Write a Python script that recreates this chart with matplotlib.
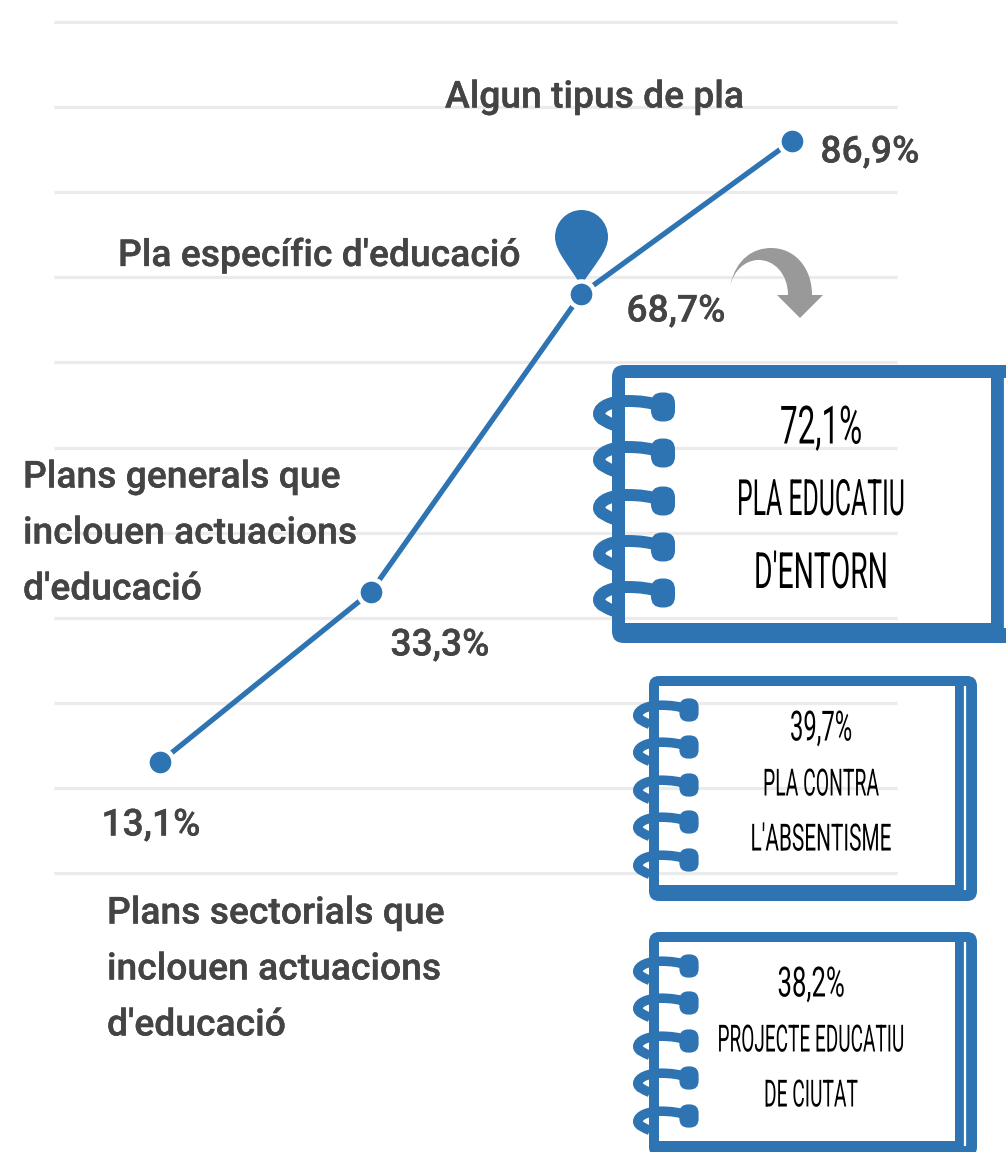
import matplotlib
matplotlib.use("Agg")
import matplotlib.pyplot as plt
from matplotlib.path import Path
from matplotlib.patches import PathPatch
from matplotlib.patheffects import AbstractPathEffect, withStroke
from matplotlib.transforms import Affine2D

W, H = 1006, 1152
BLUE = '#2e74b3'
GRAY_TEXT = '#444444'
GRID = '#ebebeb'

categories = ['Plans sectorials', 'Plans generals', 'Pla específic', 'Algun tipus de pla']
values = [13.1, 33.3, 68.7, 86.9]
grid_values = [0, 10, 20, 30, 40, 50, 60, 70, 80, 90, 100]
value_labels = ['13,1%', '33,3%', '68,7%', '86,9%']
notebook_lines = [['72,1%', 'PLA EDUCATIU', "D'ENTORN"],
                  ['39,7%', 'PLA CONTRA', "L'ABSENTISME"],
                  ['38,2%', 'PROJECTE EDUCATIU', 'DE CIUTAT']]

fig = plt.figure(figsize=(W / 100, H / 100), dpi=100)
fig.patch.set_facecolor('white')


def px_axes(left, top, right, bottom):
    return fig.add_axes([left / W, 1 - bottom / H, (right - left) / W, (bottom - top) / H])


# squeezes a text sideways, no narrow font is installed
class Squeeze(AbstractPathEffect):
    def __init__(self, sx, cx):
        super().__init__()
        self.sx = sx
        self.cx = cx

    def draw_path(self, renderer, gc, tpath, affine, rgbFace=None):
        a = affine + Affine2D().translate(-self.cx, 0).scale(self.sx, 1).translate(self.cx, 0)
        renderer.draw_path(gc, tpath, a, rgbFace)


# gridlines
ax_grid = px_axes(54, 22, 897, 873)
ax_grid.set_ylim(0, 100)
ax_grid.set_yticks(grid_values)
ax_grid.set_xticks([])
ax_grid.tick_params(length=0, labelleft=False)
ax_grid.grid(axis='y', color=GRID, linewidth=2.3, clip_on=False, solid_capstyle='butt')
for s in ax_grid.spines.values():
    s.set_visible(False)
ax_grid.patch.set_alpha(0)

# overlay in pixel coords, pin and arrow go under the line markers
ov = px_axes(0, 0, W, H)
ov.set_xlim(0, W)
ov.set_ylim(H, 0)
ov.axis('off')

# gray arrow
arrow = Path([(730, 286), (736, 258), (754, 248), (771, 248),
              (795, 248), (812, 268), (812, 295),
              (823, 295), (800, 318), (777, 295), (788, 295),
              (788, 274), (774, 259), (757, 260),
              (745, 261), (734, 270), (730, 286), (730, 286)],
             [Path.MOVETO, Path.CURVE4, Path.CURVE4, Path.CURVE4,
              Path.CURVE4, Path.CURVE4, Path.CURVE4,
              Path.LINETO, Path.LINETO, Path.LINETO, Path.LINETO,
              Path.CURVE4, Path.CURVE4, Path.CURVE4,
              Path.CURVE4, Path.CURVE4, Path.CURVE4, Path.CLOSEPOLY])
ov.add_patch(PathPatch(arrow, facecolor='#999999', edgecolor='none'))

# pin
pin = Path([(581, 286), (570, 266), (555, 252), (555, 237),
            (555, 222), (567, 210), (581.5, 210),
            (596, 210), (608, 222), (608, 237),
            (608, 252), (593, 266), (581, 286), (581, 286)],
           [Path.MOVETO, Path.CURVE4, Path.CURVE4, Path.CURVE4,
            Path.CURVE4, Path.CURVE4, Path.CURVE4,
            Path.CURVE4, Path.CURVE4, Path.CURVE4,
            Path.CURVE4, Path.CURVE4, Path.CURVE4, Path.CLOSEPOLY])
ov.add_patch(PathPatch(pin, facecolor=BLUE, edgecolor='none'))

# line
ax = px_axes(0, 0, W, H)
x_step = (792 - 160) / 3
y_step = 8.42
ax.set_xlim(-160 / x_step, (W - 160) / x_step)
ax.set_ylim((872.5 - H) / y_step, 872.5 / y_step)
ax.axis('off')
ax.plot(range(len(values)), values, color=BLUE, linewidth=3.8, solid_capstyle='butt')
ax.plot(range(len(values)), values, 'o', color=BLUE, markersize=18.8,
        markeredgecolor='white', markeredgewidth=3.2)

# everything else on top
top = px_axes(0, 0, W, H)
top.set_xlim(0, W)
top.set_ylim(H, 0)
top.axis('off')


def rounded(x0, y0, x1, y1, r):
    k = [Path.MOVETO, Path.LINETO, Path.CURVE3, Path.CURVE3, Path.LINETO, Path.CURVE3, Path.CURVE3,
         Path.LINETO, Path.CURVE3, Path.CURVE3, Path.LINETO, Path.CURVE3, Path.CURVE3, Path.CLOSEPOLY]
    v = [(x0 + r, y0), (x1 - r, y0), (x1, y0), (x1, y0 + r), (x1, y1 - r), (x1, y1), (x1 - r, y1),
         (x0 + r, y1), (x0, y1), (x0, y1 - r), (x0, y0 + r), (x0, y0), (x0 + r, y0), (x0 + r, y0)]
    return Path(v, k)


def ring(kx, ky, s):
    # wire loop that starts at the knob and wraps behind the left edge
    wire = Path([(kx, ky), (kx - 12 * s, ky - 5 * s), (kx - 24 * s, ky - 6 * s), (kx - 36 * s, ky - 6 * s),
                 (kx - 50 * s, ky - 6 * s), (kx - 64 * s, ky - 1 * s), (kx - 64 * s, ky + 7 * s),
                 (kx - 64 * s, ky + 12 * s), (kx - 56 * s, ky + 15 * s), (kx - 49 * s, ky + 18 * s)],
                [Path.MOVETO] + [Path.CURVE4] * 9)
    top.add_patch(PathPatch(wire, facecolor='none', edgecolor=BLUE, linewidth=8.6 * s, capstyle='butt'))
    knob = rounded(kx - 12 * s, ky - 14.5 * s, kx + 12 * s, ky + 14.5 * s, 11 * s)
    top.add_patch(PathPatch(knob, facecolor=BLUE, edgecolor='none'))


def notebook(outer, inner, slit, r, knob_x, knob_ys, s):
    body = Path.make_compound_path(
        rounded(*outer, r),
        Path([(inner[0], inner[1]), (inner[0], inner[3]), (inner[2], inner[3]), (inner[2], inner[1]),
              (inner[0], inner[1])], closed=True))
    top.add_patch(PathPatch(body, facecolor=BLUE, edgecolor='none'))
    top.plot([slit[0], slit[0]], [slit[1], slit[2]], color='white', linewidth=1.6, solid_capstyle='butt')
    for ky in knob_ys:
        ring(knob_x, ky, s)


notebook((612, 365, 1020, 643), (625, 378, 991, 623), (1005, 378, 628), 12, 663, [407, 453, 501, 547, 593], 1.0)
notebook((649, 676, 977, 901), (659, 686, 955, 885), (965.5, 686, 890), 10, 689, [710, 747, 785, 822, 860], 0.8)
notebook((649, 932, 977, 1157), (659, 942, 955, 1141), (965.5, 942, 1146), 10, 689, [966, 1003, 1041, 1078, 1116], 0.8)

# notebook captions
note_x = [[821, 821, 821], [821, 821, 821], [811, 811, 811]]
note_y = [[429, 501, 574], [729, 785, 840], [985, 1041, 1096]]
note_size = [[38, 36, 36], [30, 27, 27], [30, 27, 27]]
note_width = [[82, 168, 134], [62, 116, 141], [67, 187, 94]]
renderer = fig.canvas.get_renderer()
for i in range(3):
    for j in range(3):
        t = top.text(note_x[i][j], note_y[i][j], notebook_lines[i][j], family='Roboto',
                     fontsize=note_size[i][j], ha='center', va='center', color='black')
        sx = note_width[i][j] / t.get_window_extent(renderer).width
        t.set_path_effects([Squeeze(sx, note_x[i][j])])

# chart labels
label_kw = dict(family=['Roboto', 'DejaVu Sans'], fontweight='medium', color=GRAY_TEXT, fontsize=26.8, va='center',
                path_effects=[withStroke(linewidth=0.25, foreground=GRAY_TEXT)])
top.text(445, 98, 'Algun tipus de pla', **label_kw)
top.text(118, 256, "Pla específic d'educació", **label_kw)
top.text(23, 478, 'Plans generals que', **label_kw)
top.text(23, 534, 'inclouen actuacions', **label_kw)
top.text(23, 590, "d'educació", **label_kw)
top.text(107, 914, 'Plans sectorials que', **label_kw)
top.text(107, 970, 'inclouen actuacions', **label_kw)
top.text(107, 1026, "d'educació", **label_kw)

label_pos = [(151, 826), (440, 646), (676, 312), (870, 153)]
for (lx, ly), lab in zip(label_pos, value_labels):
    top.text(lx, ly, lab, ha='center', **label_kw)

fig.savefig('out.png', dpi=100)
